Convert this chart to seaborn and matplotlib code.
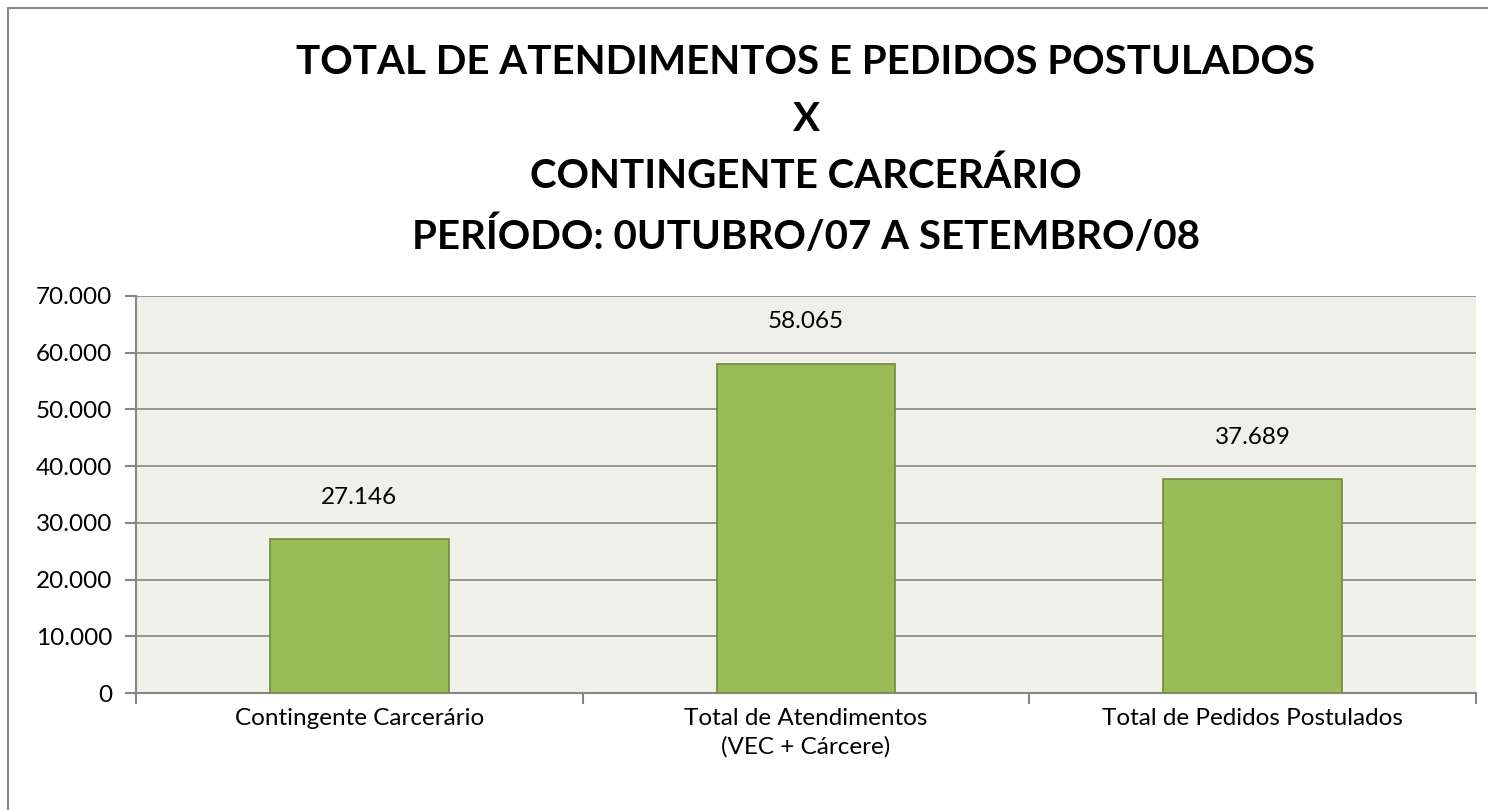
import matplotlib
matplotlib.use("Agg")
import matplotlib.pyplot as plt
from matplotlib.ticker import FuncFormatter, MultipleLocator
from matplotlib.lines import Line2D
import seaborn as sns
import pandas as pd

categorias = ["Contingente Carcerário", "Total de Atendimentos\n(VEC + Cárcere)",
              "Total de Pedidos Postulados"]
valores = [27146, 58065, 37689]
titulo = ("TOTAL DE ATENDIMENTOS E PEDIDOS POSTULADOS\nX\n"
          "CONTINGENTE CARCERÁRIO\nPERÍODO: 0UTUBRO/07 A SETEMBRO/08")

def fmt_br(v, pos=None):
    return f"{int(round(v)):,}".replace(",", ".")

sns.set_style("white")
plt.rcParams["font.family"] = ["Lato", "DejaVu Sans"]
plt.rcParams["text.color"] = "black"
plt.rcParams["xtick.color"] = "black"
plt.rcParams["ytick.color"] = "black"

df = pd.DataFrame({"categoria": categorias, "valor": valores})

fig = plt.figure(figsize=(14.88, 8.10), dpi=100)
ax = fig.add_axes([136 / 1488, 1 - 693 / 810, 1340 / 1488, 397 / 810])
ax.set_facecolor("#EFF1E8")

sns.barplot(data=df, x="categoria", y="valor", color="#9BBB59", width=0.4,
            edgecolor="#71893F", linewidth=1.2, saturation=1, ax=ax, zorder=3)

ax.set_xlim(-0.5, 2.5)
ax.set_ylim(0, 70000)
ax.yaxis.set_major_locator(MultipleLocator(10000))
ax.yaxis.set_major_formatter(FuncFormatter(fmt_br))
ax.grid(axis="y", color="#868686", linewidth=1.2, zorder=0)
ax.set_axisbelow(True)
ax.set_xlabel("")
ax.set_ylabel("")

for s in ["top", "right"]:
    ax.spines[s].set_visible(False)
for s in ["left", "bottom"]:
    ax.spines[s].set_color("#868686")
    ax.spines[s].set_linewidth(1.5)

# tick marks between categories, labels centred under the bars
ax.set_xticks([-0.5, 0.5, 1.5, 2.5], minor=False)
ax.set_xticklabels([])
ax.set_xticks([0, 1, 2], minor=True)
ax.set_xticklabels(categorias, minor=True, fontsize=17.5, linespacing=1.4)
ax.tick_params(axis="x", which="major", bottom=True, length=8, color="#868686",
               width=1.5, direction="out")
ax.tick_params(axis="x", which="minor", bottom=True, length=0, pad=11)
ax.tick_params(axis="y", left=True, length=8, color="#868686", width=1.5,
               labelsize=17.5, pad=9, direction="out")

for i, v in enumerate(valores):
    ax.text(i, v + 7400, fmt_br(v), ha="center", va="center", fontsize=17.5)

fig.text(806 / 1488, 1 - 150 / 810, titulo, ha="center", va="center",
         fontsize=29, fontweight="bold", linespacing=1.65)

fig.add_artist(Line2D([8 / 1488, 8 / 1488], [0, 1 - 8 / 810], color="#888888",
                      linewidth=1.5, transform=fig.transFigure))
fig.add_artist(Line2D([8 / 1488, 1], [1 - 8 / 810, 1 - 8 / 810], color="#888888",
                      linewidth=1.5, transform=fig.transFigure))

fig.savefig("out.png", dpi=100, facecolor="white")
